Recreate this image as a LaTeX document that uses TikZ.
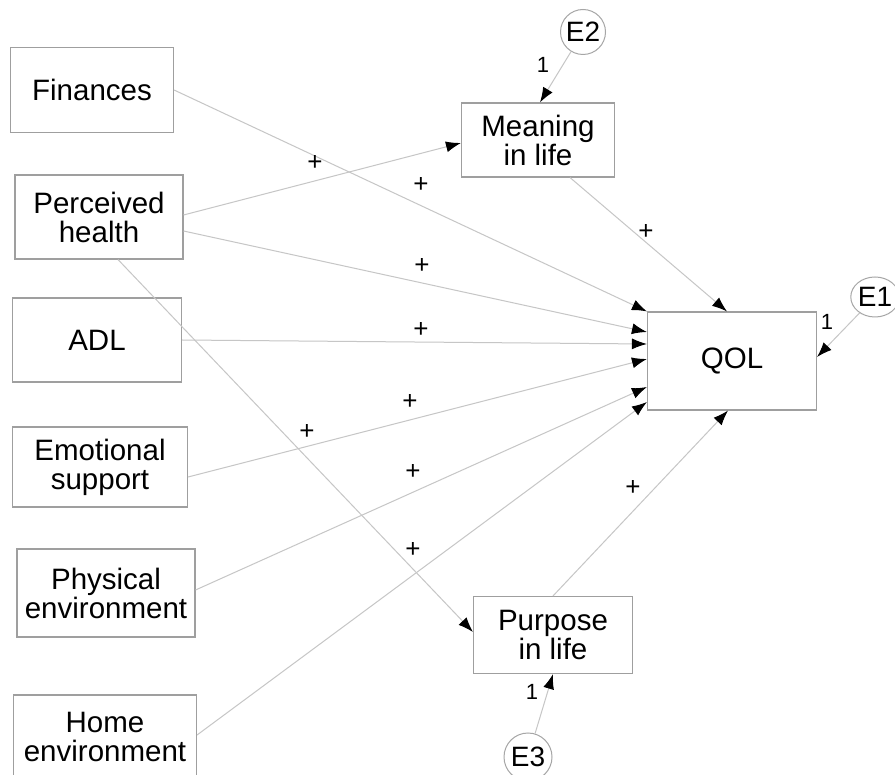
\documentclass[tikz,border=0pt]{standalone}
\usepackage{fontspec}
\setmainfont{Liberation Sans}
\usetikzlibrary{arrows.meta,shapes.geometric,positioning}

\begin{document}
\begin{tikzpicture}[
    x=1pt, y=-1pt,
    inner sep=0pt, %boxes get their size from minimum width/height
    var/.style={rectangle,draw=gray!75,line width=1.1pt,fill=white,
        align=center,font=\fontsize{29.5}{29}\selectfont},
    err/.style={circle,draw=gray!70,line width=1pt,fill=white,
        minimum size=45pt,font=\fontsize{28}{28}\selectfont},
    path/.style={draw=gray!45,line width=1pt,
        -{Latex[color=black,length=15pt,width=11pt]}},
    sgn/.style={font=\fontsize{26}{26}\selectfont},
    one/.style={font=\fontsize{22}{22}\selectfont},
    ]
    \useasboundingbox[fill=white] (0,0) rectangle (895,775);
    % exogenous variables
    \node[var,minimum width=163pt,minimum height=85pt] (fin) at (92,90) {Finances};
    \node[var,minimum width=168pt,minimum height=84pt] (ph) at (99,217) {Perceived\\health};
    \node[var,minimum width=169pt,minimum height=84pt] (adl) at (97,340) {ADL};
    \node[var,minimum width=175pt,minimum height=80pt] (emo) at (100,467) {Emotional\\support};
    \node[var,minimum width=178pt,minimum height=88pt] (phys) at (106,593) {Physical\\environment};
    \node[var,minimum width=183pt,minimum height=84pt] (home) at (105,737) {Home\\environment};
    % mediators and outcome
    \node[var,minimum width=153pt,minimum height=74pt] (mean) at (538,140) {Meaning\\in life};
    \node[var,minimum width=159pt,minimum height=77pt] (pur) at (553,635) {Purpose\\in life};
    \node[var,minimum width=169pt,minimum height=98pt] (qol) at (732,361) {QOL};
    % error terms
    \node[err,ellipse,minimum width=48pt,minimum height=40pt] (e1) at (875,297) {E1};
    \node[err] (e2) at (583,32) {E2};
    \node[err,minimum size=48pt] (e3) at (528,757) {E3};

    \draw[path] (fin.east) -- (qol.north west);
    \draw[path] ([yshift=2pt]ph.east) -- ([yshift=-3pt]mean.west);
    \draw[path] ([yshift=-14pt]ph.east) -- ([yshift=29pt]qol.west);
    \draw[path] ([xshift=19pt]ph.south) -- ([yshift=3pt]pur.west);
    \draw[path] (adl.east) -- ([yshift=17pt]qol.west);
    \draw[path] ([yshift=-10pt]emo.east) -- ([yshift=2pt]qol.west);
    \draw[path] ([yshift=3pt]phys.east) -- ([yshift=-26pt]qol.west);
    \draw[path] ([yshift=2pt]home.east) -- ([yshift=-41pt]qol.west);
    \draw[path] ([xshift=32pt]mean.south) -- ([xshift=-5pt]qol.north);
    \draw[path] (pur.north) -- ([xshift=-4pt]qol.south);
    \draw[path] (e1) -- ([yshift=4pt]qol.east);
    \draw[path] (e2) -- ([xshift=2pt]mean.north);
    \draw[path] (e3) -- (pur.south);

    % path weights
    \node[one] (w1) at (543,65) {1};
    \node[one] (w2) at (827,322) {1};
    \node[one] (w3) at (532,692) {1};
    \node[sgn] (s1) at (315,163) {+};
    \node[sgn] (s2) at (421,185) {+};
    \node[sgn] (s3) at (646,232) {+};
    \node[sgn] (s4) at (422,266) {+};
    \node[sgn] (s5) at (421,330) {+};
    \node[sgn] (s6) at (410,402) {+};
    \node[sgn] (s7) at (307,432) {+};
    \node[sgn] (s8) at (413,472) {+};
    \node[sgn] (s9) at (633,488) {+};
    \node[sgn] (s10) at (413,550) {+};
\end{tikzpicture}
\end{document}
